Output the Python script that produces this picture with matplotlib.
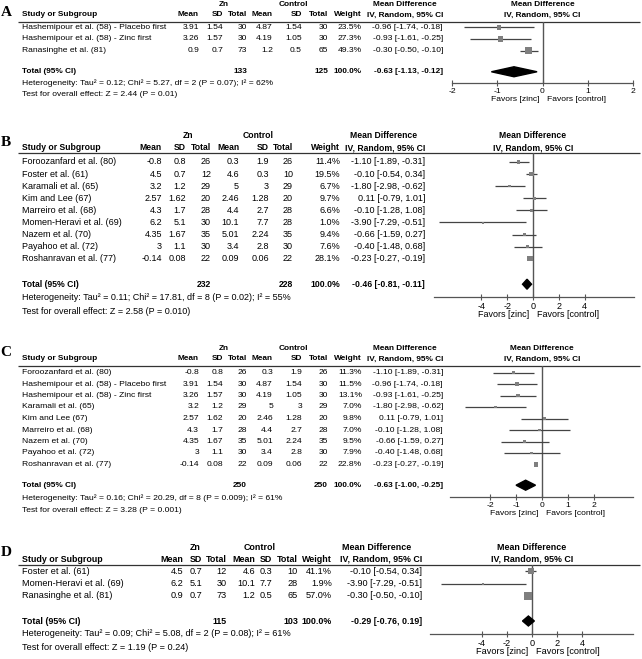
import numpy as np
import matplotlib.pyplot as plt

plt.rcParams['font.family'] = ['Liberation Sans', 'DejaVu Sans']
plt.rcParams['axes.unicode_minus'] = False

W, H = 642, 659

# ---------------- Panel A ----------------
a_study = ['Hashemipour et al. (58) - Placebo first',
           'Hashemipour et al. (58) - Zinc first',
           'Ranasinghe et al. (81)']
a_zn_mean = [3.91, 3.26, 0.9]
a_zn_sd = [1.54, 1.57, 0.7]
a_zn_n = [30, 30, 73]
a_ct_mean = [4.87, 4.19, 1.2]
a_ct_sd = [1.54, 1.05, 0.5]
a_ct_n = [30, 30, 65]
a_weight = [23.5, 27.3, 49.3]
a_md = [-0.96, -0.93, -0.30]
a_lo = [-1.74, -1.61, -0.50]
a_hi = [-0.18, -0.25, -0.10]
a_total_n = [133, 125]
a_total = [-0.63, -1.13, -0.12]
a_het = 'Heterogeneity: Tau² = 0.12; Chi² = 5.27, df = 2 (P = 0.07); I² = 62%'
a_test = 'Test for overall effect: Z = 2.44 (P = 0.01)'
a_ticks = [-2, -1, 0, 1, 2]

# ---------------- Panel B ----------------
b_study = ['Foroozanfard et al. (80)', 'Foster et al. (61)', 'Karamali et al. (65)',
           'Kim and Lee (67)', 'Marreiro et al. (68)', 'Momen-Heravi et al. (69)',
           'Nazem et al. (70)', 'Payahoo et al. (72)', 'Roshanravan et al. (77)']
b_zn_mean = [-0.8, 4.5, 3.2, 2.57, 4.3, 6.2, 4.35, 3, -0.14]
b_zn_sd = [0.8, 0.7, 1.2, 1.62, 1.7, 5.1, 1.67, 1.1, 0.08]
b_zn_n = [26, 12, 29, 20, 28, 30, 35, 30, 22]
b_ct_mean = [0.3, 4.6, 5, 2.46, 4.4, 10.1, 5.01, 3.4, 0.09]
b_ct_sd = [1.9, 0.3, 3, 1.28, 2.7, 7.7, 2.24, 2.8, 0.06]
b_ct_n = [26, 10, 29, 20, 28, 28, 35, 30, 22]
b_weight = [11.4, 19.5, 6.7, 9.7, 6.6, 1.0, 9.4, 7.6, 28.1]
b_md = [-1.10, -0.10, -1.80, 0.11, -0.10, -3.90, -0.66, -0.40, -0.23]
b_lo = [-1.89, -0.54, -2.98, -0.79, -1.28, -7.29, -1.59, -1.48, -0.27]
b_hi = [-0.31, 0.34, -0.62, 1.01, 1.08, -0.51, 0.27, 0.68, -0.19]
b_total_n = [232, 228]
b_total = [-0.46, -0.81, -0.11]
b_het = 'Heterogeneity: Tau² = 0.11; Chi² = 17.81, df = 8 (P = 0.02); I² = 55%'
b_test = 'Test for overall effect: Z = 2.58 (P = 0.010)'
b_ticks = [-4, -2, 0, 2, 4]

# ---------------- Panel C ----------------
c_study = ['Foroozanfard et al. (80)', 'Hashemipour et al. (58) - Placebo first',
           'Hashemipour et al. (58) - Zinc first', 'Karamali et al. (65)',
           'Kim and Lee (67)', 'Marreiro et al. (68)', 'Nazem et al. (70)',
           'Payahoo et al. (72)', 'Roshanravan et al. (77)']
c_zn_mean = [-0.8, 3.91, 3.26, 3.2, 2.57, 4.3, 4.35, 3, -0.14]
c_zn_sd = [0.8, 1.54, 1.57, 1.2, 1.62, 1.7, 1.67, 1.1, 0.08]
c_zn_n = [26, 30, 30, 29, 20, 28, 35, 30, 22]
c_ct_mean = [0.3, 4.87, 4.19, 5, 2.46, 4.4, 5.01, 3.4, 0.09]
c_ct_sd = [1.9, 1.54, 1.05, 3, 1.28, 2.7, 2.24, 2.8, 0.06]
c_ct_n = [26, 30, 30, 29, 20, 28, 35, 30, 22]
c_weight = [11.3, 11.5, 13.1, 7.0, 9.8, 7.0, 9.5, 7.9, 22.8]
c_md = [-1.10, -0.96, -0.93, -1.80, 0.11, -0.10, -0.66, -0.40, -0.23]
c_lo = [-1.89, -1.74, -1.61, -2.98, -0.79, -1.28, -1.59, -1.48, -0.27]
c_hi = [-0.31, -0.18, -0.25, -0.62, 1.01, 1.08, 0.27, 0.68, -0.19]
c_total_n = [250, 250]
c_total = [-0.63, -1.00, -0.25]
c_het = 'Heterogeneity: Tau² = 0.16; Chi² = 20.29, df = 8 (P = 0.009); I² = 61%'
c_test = 'Test for overall effect: Z = 3.28 (P = 0.001)'
c_ticks = [-2, -1, 0, 1, 2]

# ---------------- Panel D ----------------
d_study = ['Foster et al. (61)', 'Momen-Heravi et al. (69)', 'Ranasinghe et al. (81)']
d_zn_mean = [4.5, 6.2, 0.9]
d_zn_sd = [0.7, 5.1, 0.7]
d_zn_n = [12, 30, 73]
d_ct_mean = [4.6, 10.1, 1.2]
d_ct_sd = [0.3, 7.7, 0.5]
d_ct_n = [10, 28, 65]
d_weight = [41.1, 1.9, 57.0]
d_md = [-0.10, -3.90, -0.30]
d_lo = [-0.54, -7.29, -0.50]
d_hi = [0.34, -0.51, -0.10]
d_total_n = [115, 103]
d_total = [-0.29, -0.76, 0.19]
d_het = 'Heterogeneity: Tau² = 0.09; Chi² = 5.08, df = 2 (P = 0.08); I² = 61%'
d_test = 'Test for overall effect: Z = 1.19 (P = 0.24)'
d_ticks = [-4, -2, 0, 2, 4]

fig = plt.figure(figsize=(W / 100, H / 100), dpi=100)
bg = fig.add_axes([0, 0, 1, 1])
bg.set_xlim(0, W)
bg.set_ylim(H, 0)
bg.axis('off')


def draw_panel(letter, study, zm, zs, zn, cm, cs, cn, wt, md, lo, hi, tot_n, tot,
               het, test, ticks, fs, cols, hdr, rows, plot):
    # cols: right edges of table columns + header centres
    x_mean, x_sd, x_tot, x_cmean, x_csd, x_ctot, x_wt, x_md, x_mdh, x_zn, x_ct = cols
    y_h1, y_h2, y_line, y_letter = hdr
    r0, step, t_idx, y_het, y_test = rows
    px_l, px_r, y_axis, xmin, xmax = plot
    x0 = 22
    n = len(study)
    b = dict(fontsize=fs * 0.97, fontweight='bold', va='center', color='black')
    t = dict(fontsize=fs, va='center', color='black')

    bg.text(6, y_letter, letter, family='Liberation Serif', fontsize=11,
            fontweight='bold', ha='center', va='center')
    zero_px = px_l + (0 - xmin) / (xmax - xmin) * (px_r - px_l)

    # header
    bg.text(x_zn, y_h1, 'Zn', ha='center', **b)
    bg.text(x_ct, y_h1, 'Control', ha='center', **b)
    bg.text(x_mdh, y_h1, 'Mean Difference', ha='center', **b)
    bg.text(zero_px, y_h1, 'Mean Difference', ha='center', **b)
    bg.text(x0, y_h2, 'Study or Subgroup', ha='left', **b)
    for x, lab in zip([x_mean, x_sd, x_tot, x_cmean, x_csd, x_ctot, x_wt],
                      ['Mean', 'SD', 'Total', 'Mean', 'SD', 'Total', 'Weight']):
        bg.text(x, y_h2, lab, ha='right', **b)
    bg.text(x_md, y_h2, 'IV, Random, 95% CI', ha='right', **b)
    bg.text(zero_px, y_h2, 'IV, Random, 95% CI', ha='center', **b)
    bg.hlines(y_line, 18, 640, color='#333333', lw=0.9)

    # study rows
    for i in range(n):
        y = r0 + i * step
        bg.text(x0, y, study[i], ha='left', **t)
        for x, v in zip([x_mean, x_sd, x_tot, x_cmean, x_csd, x_ctot],
                        [zm[i], zs[i], zn[i], cm[i], cs[i], cn[i]]):
            bg.text(x, y, f'{v:g}', ha='right', **t)
        bg.text(x_wt, y, f'{wt[i]:.1f}%', ha='right', **t)
        bg.text(x_md, y, f'{md[i]:.2f} [{lo[i]:.2f}, {hi[i]:.2f}]', ha='right', **t)

    # total row
    yt = r0 + t_idx * step
    bg.text(x0, yt, 'Total (95% CI)', ha='left', **b)
    bg.text(x_tot, yt, str(tot_n[0]), ha='right', **b)
    bg.text(x_ctot, yt, str(tot_n[1]), ha='right', **b)
    bg.text(x_wt, yt, '100.0%', ha='right', **b)
    bg.text(x_md, yt, f'{tot[0]:.2f} [{tot[1]:.2f}, {tot[2]:.2f}]', ha='right', **b)
    bg.text(x0, y_het, het, ha='left', **t)
    bg.text(x0, y_test, test, ha='left', **t)

    # forest plot
    ax = fig.add_axes([px_l / W, 1 - y_axis / H, (px_r - px_l) / W, (y_axis - y_line) / H])
    ax.set_xlim(xmin, xmax)
    ax.set_ylim((y_axis - r0) / step, (y_line - r0) / step)
    ax.patch.set_alpha(0)
    for s in ['top', 'left', 'right']:
        ax.spines[s].set_visible(False)
    ax.spines['bottom'].set_color('#555555')
    ax.spines['bottom'].set_linewidth(0.9)
    ax.set_yticks([])
    ax.set_xticks(ticks)
    ax.set_xticklabels([f'{v:g}' for v in ticks])
    ax.tick_params(axis='x', direction='inout', length=5, width=0.8, color='#555555',
                   labelsize=fs, pad=1, labelcolor='black')
    ax.axvline(0, color='#555555', lw=1.0, zorder=1)
    pos = np.arange(n)
    ax.hlines(pos, lo, hi, color='#444444', lw=0.9, zorder=2)
    side = np.maximum(2.0, np.sqrt(wt)) * 0.72
    ax.scatter(md, pos, marker='s', s=side ** 2, color='#7f7f7f', linewidths=0, zorder=3)
    hh = 5.0 / step
    ax.fill([tot[1], tot[0], tot[2], tot[0]], [t_idx, t_idx - hh, t_idx, t_idx + hh],
            color='black', zorder=4)
    ax.annotate('Favors [zinc]', xy=(0, 0), xycoords=('data', 'axes fraction'),
                xytext=(-2.5, -1.95 * fs), textcoords='offset points', ha='right',
                va='center', fontsize=fs, color='black')
    ax.annotate('Favors [control]', xy=(0, 0), xycoords=('data', 'axes fraction'),
                xytext=(3, -1.95 * fs), textcoords='offset points', ha='left',
                va='center', fontsize=fs, color='black')


draw_panel('A', a_study, a_zn_mean, a_zn_sd, a_zn_n, a_ct_mean, a_ct_sd, a_ct_n, a_weight,
           a_md, a_lo, a_hi, a_total_n, a_total, a_het, a_test, a_ticks, 6.1,
           (199, 223, 247, 273, 302, 328, 362, 443, 405, 224, 293),
           (4, 15, 22, 13),
           (27.3, 11.7, 3.8, 83, 94),
           (452, 633, 83, -2, 2))

draw_panel('B', b_study, b_zn_mean, b_zn_sd, b_zn_n, b_ct_mean, b_ct_sd, b_ct_n, b_weight,
           b_md, b_lo, b_hi, b_total_n, b_total, b_het, b_test, b_ticks, 6.45,
           (162, 186, 211, 239, 269, 293, 340, 425, 384, 188, 258),
           (135, 148, 153, 142),
           (162, 12.1, 10.1, 298, 312),
           (434, 634, 297, -7.67, 7.83))

draw_panel('C', c_study, c_zn_mean, c_zn_sd, c_zn_n, c_ct_mean, c_ct_sd, c_ct_n, c_weight,
           c_md, c_lo, c_hi, c_total_n, c_total, c_het, c_test, c_ticks, 6.1,
           (199, 223, 247, 273, 302, 328, 362, 443, 405, 224, 293),
           (348, 359, 366, 352),
           (372.5, 11.5, 9.8, 498, 510),
           (450, 633, 497, -3.54, 3.5))

draw_panel('D', d_study, d_zn_mean, d_zn_sd, d_zn_n, d_ct_mean, d_ct_sd, d_ct_n, d_weight,
           d_md, d_lo, d_hi, d_total_n, d_total, d_het, d_test, d_ticks, 6.6,
           (183, 202, 227, 255, 272, 298, 332, 422, 377, 195, 260),
           (548, 559, 565, 552),
           (571, 12.5, 4.0, 634, 648),
           (430, 633, 634, -8.16, 8.08))

fig.savefig('out.png', dpi=100)
